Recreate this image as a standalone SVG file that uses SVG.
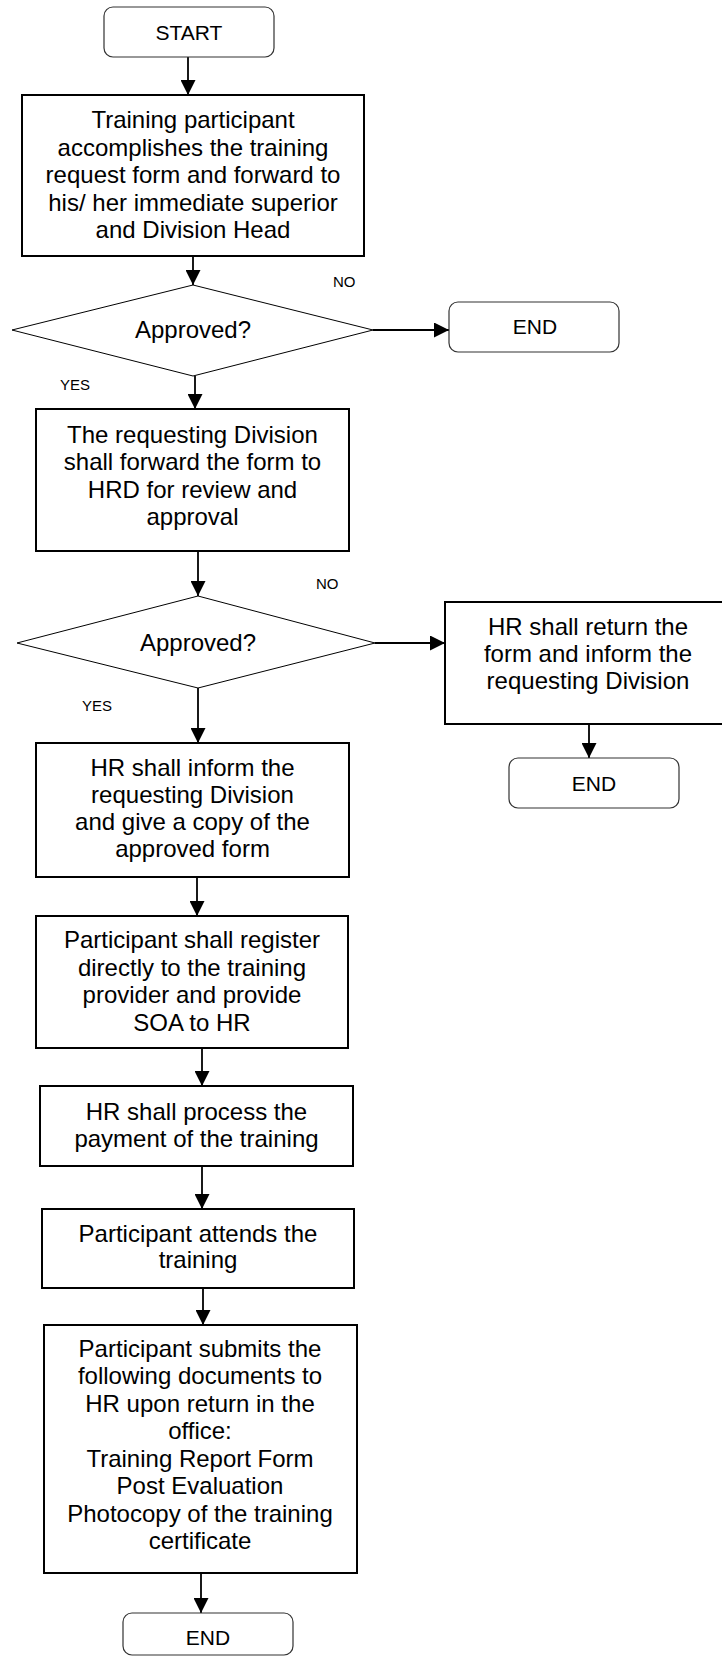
<svg xmlns="http://www.w3.org/2000/svg" width="722" height="1658" viewBox="0 0 722 1658">
<style>
  .box{fill:#fff;stroke:#000;stroke-width:2}
  .term{fill:#fff;stroke:#333;stroke-width:1.2}
  .dia{fill:#fff;stroke:#000;stroke-width:1}
  .t{font-family:"Liberation Sans",Arial,sans-serif;font-size:24px;fill:#000;text-anchor:middle}
  .ts{font-family:"Liberation Sans",Arial,sans-serif;font-size:21px;fill:#000;text-anchor:middle}
  .lbl{font-family:"Liberation Sans",Arial,sans-serif;font-size:15px;fill:#000}
  .c{fill:none;stroke:#000;stroke-width:1.8}
</style>
<defs>
  <marker id="ah" markerUnits="userSpaceOnUse" markerWidth="15" markerHeight="15" refX="15" refY="7.5" orient="auto">
    <path d="M0,0 L15,7.5 L0,15 z" fill="#000"/>
  </marker>
</defs>
<rect width="722" height="1658" fill="#fff"/>

<g id="connectors">
  <path class="c" d="M188,57 L188,95" marker-end="url(#ah)"/>
  <path class="c" d="M193,256 L193,285" marker-end="url(#ah)"/>
  <path class="c" d="M373,330 L449,330" marker-end="url(#ah)"/>
  <path class="c" d="M195,376 L195,409" marker-end="url(#ah)"/>
  <path class="c" d="M198,551 L198,596" marker-end="url(#ah)"/>
  <path class="c" d="M375,643 L445,643" marker-end="url(#ah)"/>
  <path class="c" d="M198,688 L198,743" marker-end="url(#ah)"/>
  <path class="c" d="M589,724 L589,758" marker-end="url(#ah)"/>
  <path class="c" d="M197,877 L197,916" marker-end="url(#ah)"/>
  <path class="c" d="M202,1048 L202,1086" marker-end="url(#ah)"/>
  <path class="c" d="M202,1166 L202,1209" marker-end="url(#ah)"/>
  <path class="c" d="M203,1288 L203,1325" marker-end="url(#ah)"/>
  <path class="c" d="M201,1573 L201,1613" marker-end="url(#ah)"/>
  <text class="lbl" x="333" y="287">NO</text>
  <text class="lbl" x="60" y="390">YES</text>
  <text class="lbl" x="316" y="589">NO</text>
  <text class="lbl" x="82" y="711">YES</text>
</g>

<g id="start">
  <rect class="term" x="104" y="7" width="170" height="50" rx="9"/>
  <text class="ts" x="189" y="40">START</text>
</g>

<g id="box1">
  <rect class="box" x="22" y="95" width="342" height="161"/>
  <text class="t" x="193" y="128">Training participant</text>
  <text class="t" x="193" y="156">accomplishes the training</text>
  <text class="t" x="193" y="183">request form and forward to</text>
  <text class="t" x="193" y="211">his/ her immediate superior</text>
  <text class="t" x="193" y="238">and Division Head</text>
</g>

<g id="decision1">
  <polygon class="dia" points="193,285 373,330 193,376 12,330"/>
  <text class="t" x="193" y="338">Approved?</text>
</g>

<g id="end1">
  <rect class="term" x="449" y="302" width="170" height="50" rx="9"/>
  <text class="ts" x="535" y="334">END</text>
</g>

<g id="box2">
  <rect class="box" x="36" y="409" width="313" height="142"/>
  <text class="t" x="192.5" y="443">The requesting Division</text>
  <text class="t" x="192.5" y="470">shall forward the form to</text>
  <text class="t" x="192.5" y="498">HRD for review and</text>
  <text class="t" x="192.5" y="525">approval</text>
</g>

<g id="decision2">
  <polygon class="dia" points="198,596 375,643 198,688 17,643"/>
  <text class="t" x="198" y="651">Approved?</text>
</g>

<g id="returnbox">
  <rect class="box" x="445" y="602" width="286" height="122"/>
  <text class="t" x="588" y="635">HR shall return the</text>
  <text class="t" x="588" y="662">form and inform the</text>
  <text class="t" x="588" y="689">requesting Division</text>
</g>

<g id="end2">
  <rect class="term" x="509" y="758" width="170" height="50" rx="9"/>
  <text class="ts" x="594" y="791">END</text>
</g>

<g id="box3">
  <rect class="box" x="36" y="743" width="313" height="134"/>
  <text class="t" x="192.5" y="776">HR shall inform the</text>
  <text class="t" x="192.5" y="803">requesting Division</text>
  <text class="t" x="192.5" y="830">and give a copy of the</text>
  <text class="t" x="192.5" y="857">approved form</text>
</g>

<g id="box4">
  <rect class="box" x="36" y="916" width="312" height="132"/>
  <text class="t" x="192" y="948">Participant shall register</text>
  <text class="t" x="192" y="976">directly to the training</text>
  <text class="t" x="192" y="1003">provider and provide</text>
  <text class="t" x="192" y="1031">SOA to HR</text>
</g>

<g id="box5">
  <rect class="box" x="40" y="1086" width="313" height="80"/>
  <text class="t" x="196.5" y="1120">HR shall process the</text>
  <text class="t" x="196.5" y="1147">payment of the training</text>
</g>

<g id="box6">
  <rect class="box" x="42" y="1209" width="312" height="79"/>
  <text class="t" x="198" y="1242">Participant attends the</text>
  <text class="t" x="198" y="1268">training</text>
</g>

<g id="box7">
  <rect class="box" x="44" y="1325" width="313" height="248"/>
  <text class="t" x="200" y="1357">Participant submits the</text>
  <text class="t" x="200" y="1384">following documents to</text>
  <text class="t" x="200" y="1412">HR upon return in the</text>
  <text class="t" x="200" y="1439">office:</text>
  <text class="t" x="200" y="1467">Training Report Form</text>
  <text class="t" x="200" y="1494">Post Evaluation</text>
  <text class="t" x="200" y="1522">Photocopy of the training</text>
  <text class="t" x="200" y="1549">certificate</text>
</g>

<g id="end3">
  <rect class="term" x="123" y="1613" width="170" height="42" rx="9"/>
  <text class="ts" x="208" y="1645">END</text>
</g>
</svg>
